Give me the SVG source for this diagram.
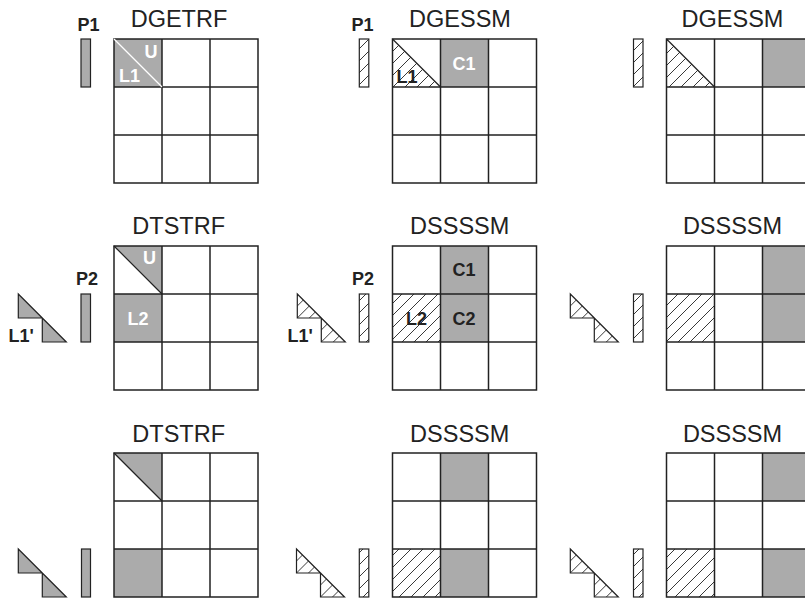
<svg xmlns="http://www.w3.org/2000/svg" xmlns:xlink="http://www.w3.org/1999/xlink" width="805" height="599" viewBox="0 0 805 599">
<style>
.title{font-family:"Liberation Sans",Arial,sans-serif;font-size:23.5px;fill:#222;text-anchor:middle}
.lab{font-family:"Liberation Sans",Arial,sans-serif;font-size:18px;font-weight:bold;fill:#222}
.wlab{font-family:"Liberation Sans",Arial,sans-serif;font-size:18px;font-weight:bold;fill:#fff}
.gray{fill:#ababab}
.hat{fill:url(#hatch)}
.sh{stroke:#222;stroke-width:1.2}
.diag{stroke:#222;stroke-width:1.2;fill:none}
.wdiag{stroke:#fff;stroke-width:1.2;fill:none}
</style>
<defs>
<pattern id="hatch" patternUnits="userSpaceOnUse" width="12" height="12">
<rect width="12" height="12" fill="#fff"/>
<path d="M-3,3 L3,-3 M0,12 L12,0 M9,15 L15,9" stroke="#222" stroke-width="0.9"/>
</pattern>
<path id="gridlines" d="M0,0H144V144H0Z M48,0V144 M96,0V144 M0,48H144 M0,96H144" fill="none" stroke="#222" stroke-width="1.5"/>
<path id="stair" d="M0,0 V24 H24 V48 H48 Z"/>
</defs>
<rect width="805" height="599" fill="#fff"/>

<!-- Row 1 -->
<g id="dgetrf">
<text class="title" x="179" y="27">DGETRF</text>
<g id="dgetrf-p1">
<text class="lab" x="77.5" y="31">P1</text>
<rect x="81" y="39" width="9.5" height="48" class="gray sh"/>
</g>
<g id="dgetrf-grid">
<rect x="114" y="39" width="48" height="48" class="gray"/>
<use xlink:href="#gridlines" x="114" y="39"/>
<line x1="114" y1="39" x2="162" y2="87" class="wdiag"/>
<text class="wlab" x="144.5" y="57.5">U</text>
<text class="wlab" x="119" y="82">L1</text>
</g>
</g>

<g id="dgessm1">
<text class="title" x="460" y="27">DGESSM</text>
<g id="dgessm1-p1">
<text class="lab" x="351.5" y="31">P1</text>
<rect x="359.3" y="39" width="9.5" height="48" class="hat sh"/>
</g>
<g id="dgessm1-grid">
<polygon points="392.5,39 392.5,87 440.5,87" class="hat"/>
<rect x="440.5" y="39" width="48" height="48" class="gray"/>
<use xlink:href="#gridlines" x="392.5" y="39"/>
<line x1="392.5" y1="39" x2="440.5" y2="87" class="diag"/>
<text class="lab" x="396.5" y="82.5">L1</text>
<text class="wlab" x="452.5" y="69.5">C1</text>
</g>
</g>

<g id="dgessm2">
<text class="title" x="732.5" y="27">DGESSM</text>
<g id="dgessm2-p1">
<rect x="633.5" y="39" width="9.5" height="48" class="hat sh"/>
</g>
<g id="dgessm2-grid">
<polygon points="666.5,39 666.5,87 714.5,87" class="hat"/>
<rect x="762.5" y="39" width="48" height="48" class="gray"/>
<use xlink:href="#gridlines" x="666.5" y="39"/>
<line x1="666.5" y1="39" x2="714.5" y2="87" class="diag"/>
</g>
</g>

<!-- Row 2 -->
<g id="dtstrf1">
<text class="title" x="178.7" y="234">DTSTRF</text>
<g id="dtstrf1-l1p">
<use xlink:href="#stair" x="18.3" y="294" class="gray sh"/>
<text class="lab" x="8.5" y="341.5">L1'</text>
</g>
<g id="dtstrf1-p2">
<text class="lab" x="76" y="285">P2</text>
<rect x="81" y="294" width="9.5" height="48" class="gray sh"/>
</g>
<g id="dtstrf1-grid">
<polygon points="114,246 162,246 162,294" class="gray"/>
<rect x="114" y="294" width="48" height="48" class="gray"/>
<use xlink:href="#gridlines" x="114" y="246"/>
<line x1="114" y1="246" x2="162" y2="294" class="diag"/>
<text class="wlab" x="143" y="264">U</text>
<text class="wlab" x="127.5" y="325">L2</text>
</g>
</g>

<g id="dssssm1">
<text class="title" x="459.7" y="234">DSSSSM</text>
<g id="dssssm1-l1p">
<use xlink:href="#stair" x="297.3" y="294" class="hat sh"/>
<text class="lab" x="287.5" y="341.5">L1'</text>
</g>
<g id="dssssm1-p2">
<text class="lab" x="352" y="285">P2</text>
<rect x="359.3" y="294" width="9.5" height="48" class="hat sh"/>
</g>
<g id="dssssm1-grid">
<rect x="392.5" y="294" width="48" height="48" class="hat"/>
<rect x="440.5" y="246" width="48" height="96" class="gray"/>
<use xlink:href="#gridlines" x="392.5" y="246"/>
<text class="lab" x="452.5" y="276">C1</text>
<text class="lab" x="452.5" y="324.5">C2</text>
<text class="lab" x="406" y="324.5">L2</text>
</g>
</g>

<g id="dssssm2">
<text class="title" x="732.5" y="234">DSSSSM</text>
<g id="dssssm2-l1p">
<use xlink:href="#stair" x="570.3" y="294" class="hat sh"/>
</g>
<g id="dssssm2-p2">
<rect x="633.5" y="294" width="9.5" height="48" class="hat sh"/>
</g>
<g id="dssssm2-grid">
<rect x="666.5" y="294" width="48" height="48" class="hat"/>
<rect x="762.5" y="246" width="48" height="96" class="gray"/>
<use xlink:href="#gridlines" x="666.5" y="246"/>
</g>
</g>

<!-- Row 3 -->
<g id="dtstrf2">
<text class="title" x="178.7" y="441.5">DTSTRF</text>
<g id="dtstrf2-l1p">
<use xlink:href="#stair" x="18.3" y="549" class="gray sh"/>
</g>
<g id="dtstrf2-p">
<rect x="81.5" y="549" width="9" height="48" class="gray sh"/>
</g>
<g id="dtstrf2-grid">
<polygon points="114,453 162,453 162,501" class="gray"/>
<rect x="114" y="549" width="48" height="48" class="gray"/>
<use xlink:href="#gridlines" x="114" y="453"/>
<line x1="114" y1="453" x2="162" y2="501" class="diag"/>
</g>
</g>

<g id="dssssm3">
<text class="title" x="459.7" y="441.5">DSSSSM</text>
<g id="dssssm3-l1p">
<use xlink:href="#stair" x="296.5" y="549" class="hat sh"/>
</g>
<g id="dssssm3-p">
<rect x="359.3" y="549" width="9.5" height="48" class="hat sh"/>
</g>
<g id="dssssm3-grid">
<rect x="392.5" y="549" width="48" height="48" class="hat"/>
<rect x="440.5" y="453" width="48" height="48" class="gray"/>
<rect x="440.5" y="549" width="48" height="48" class="gray"/>
<use xlink:href="#gridlines" x="392.5" y="453"/>
</g>
</g>

<g id="dssssm4">
<text class="title" x="732.5" y="441.5">DSSSSM</text>
<g id="dssssm4-l1p">
<use xlink:href="#stair" x="570.3" y="549" class="hat sh"/>
</g>
<g id="dssssm4-p">
<rect x="633.5" y="549" width="9.5" height="48" class="hat sh"/>
</g>
<g id="dssssm4-grid">
<rect x="666.5" y="549" width="48" height="48" class="hat"/>
<rect x="762.5" y="453" width="48" height="48" class="gray"/>
<rect x="762.5" y="549" width="48" height="48" class="gray"/>
<use xlink:href="#gridlines" x="666.5" y="453"/>
</g>
</g>

<g id="connectors"/>
</svg>
